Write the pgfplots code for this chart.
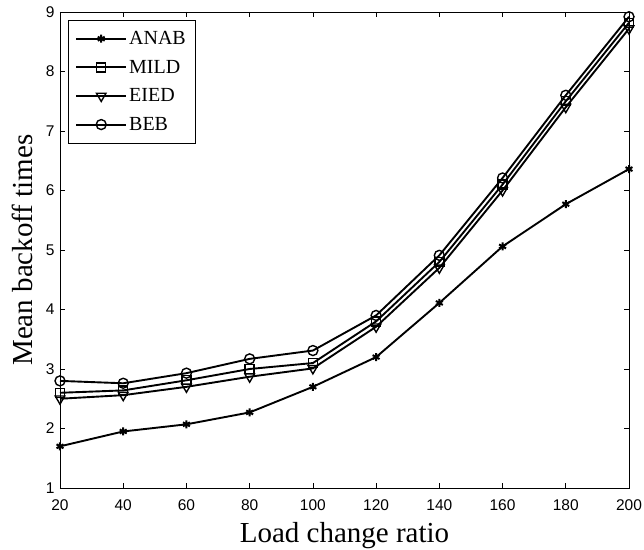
\documentclass[border=0pt]{standalone}
\usepackage{fontspec}
\setmainfont{Liberation Serif}
\newfontfamily\arialfont{Liberation Sans}
\usepackage{pgfplots}
\pgfplotsset{compat=1.18}
\begin{document}
\begin{tikzpicture}
\begin{axis}[
  name=ax,
  width=569pt, height=476pt,
  scale only axis,
  xmin=20, xmax=200, ymin=1, ymax=9,
  xtick={20,40,...,200}, ytick={1,2,...,9},
  tick align=inside,
  major tick length=5pt,
  axis line style={line width=0.9pt},
  tick style={line width=0.6pt, black},
  /pgf/number format/assume math mode=true,
  ticklabel style={font=\arialfont\fontsize{15.5}{15.5}\selectfont},
  xticklabel style={yshift=-8pt},
  yticklabel style={xshift=-2pt},
  xlabel={Load change ratio},
  ylabel={Mean backoff times},
  label style={font=\fontsize{29}{29}\selectfont},
  xlabel style={at={(axis description cs:0.5,-0.1155)}, anchor=base},
  ylabel style={at={(axis description cs:-0.0475,0.5)}, anchor=base},
  every axis plot/.append style={line width=1.9pt, black},
  legend style={at={(0.014,0.983)}, anchor=north west,
    font=\fontsize{20}{20}\selectfont, draw=black, line width=0.6pt,
    row sep=10pt, inner xsep=7pt, inner ysep=9pt},
  legend cell align=left,
  legend image code/.code={\draw[line width=1.9pt, mark repeat=2,mark phase=2] plot coordinates {(0pt,0pt) (25pt,0pt) (50pt,0pt)};},
]
\addplot[line width=1.9pt, mark=asterisk, mark size=4pt, mark options={line width=2pt}] coordinates {
(20,1.70) (40,1.95) (60,2.07) (80,2.27) (100,2.70) (120,3.20) (140,4.11) (160,5.06) (180,5.77) (200,6.36)};
\addplot[line width=1.9pt, mark=square, mark size=4.5pt, mark options={line width=1.4pt}] coordinates {
(20,2.60) (40,2.64) (60,2.81) (80,3.00) (100,3.10) (120,3.80) (140,4.80) (160,6.10) (180,7.50) (200,8.82)};
\addplot[line width=1.9pt, mark=triangle, mark size=5.5pt, mark options={rotate=180, line width=1.4pt}] coordinates {
(20,2.50) (40,2.56) (60,2.70) (80,2.87) (100,3.01) (120,3.71) (140,4.70) (160,6.00) (180,7.40) (200,8.72)};
\addplot[line width=1.9pt, mark=o, mark size=5pt, mark options={line width=1.4pt}] coordinates {
(20,2.80) (40,2.76) (60,2.93) (80,3.17) (100,3.31) (120,3.90) (140,4.91) (160,6.21) (180,7.60) (200,8.92)};
\legend{ANAB,MILD,EIED,BEB}
\end{axis}
\pgfresetboundingbox
\path ([shift={(-60pt,-62pt)}]ax.south west) rectangle ([shift={(15pt,12pt)}]ax.north east);
\end{tikzpicture}
\end{document}
